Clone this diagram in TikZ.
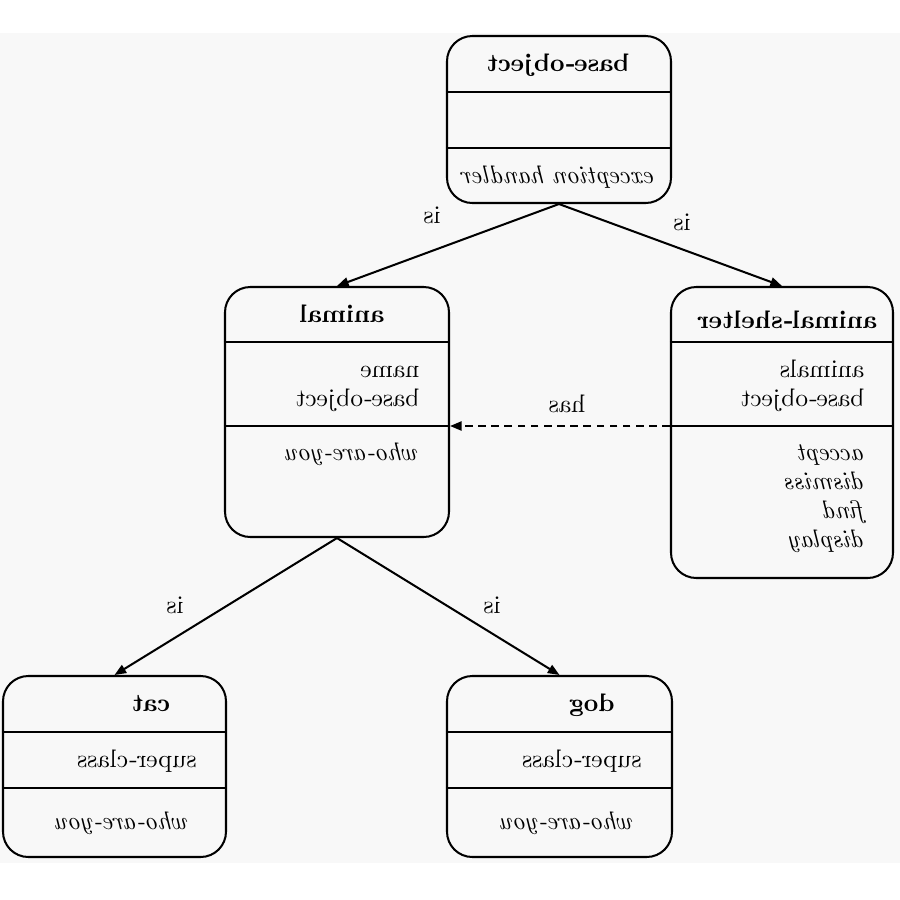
\documentclass[tikz,border=0pt]{standalone}
\usetikzlibrary{arrows.meta,fit}
\definecolor{bgc}{RGB}{248,248,248}
\newcommand{\mir}[1]{\reflectbox{#1}}
\tikzset{
  box/.style={draw, line width=0.8pt, rounded corners=10pt, inner sep=0pt},
  sep/.style={line width=0.8pt},
  arr/.style={line width=0.8pt, -{Triangle[length=4.6pt,width=3.6pt]}},
  dsh/.style={line width=0.8pt, dash pattern=on 3pt off 2.2pt, -{Triangle[length=4.6pt,width=3.6pt]}},
  ttl/.style={inner sep=0pt, anchor=base, font=\bfseries},
  att/.style={inner sep=0pt, anchor=base east},
  mth/.style={inner sep=0pt, anchor=base east, font=\itshape},
  lbl/.style={inner sep=0pt, anchor=base},
}
\begin{document}
\begin{tikzpicture}[x=0.395pt, y=-0.395pt]
\useasboundingbox (0,0) rectangle (900,900);
\fill[bgc] (0,33) rectangle (900,863);
% boxes
\node[box, fit={(447,36) (671,203)}] (base) {};
\node[box, fit={(225,287) (449,537)}] (animal) {};
\node[box, fit={(671,287) (893,578)}] (shelter) {};
\node[box, fit={(3,676) (226,857)}] (cat) {};
\node[box, fit={(447,676) (672,857)}] (dog) {};
% dividers
\draw[sep] (base.west |- 0,92) -- (base.east |- 0,92);
\draw[sep] (base.west |- 0,148) -- (base.east |- 0,148);
\draw[sep] (animal.west |- 0,342) -- (animal.east |- 0,342);
\draw[sep] (animal.west |- 0,426) -- (animal.east |- 0,426);
\draw[sep] (shelter.west |- 0,342) -- (shelter.east |- 0,342);
\draw[sep] (shelter.west |- 0,426) -- (shelter.east |- 0,426);
\draw[sep] (cat.west |- 0,732) -- (cat.east |- 0,732);
\draw[sep] (cat.west |- 0,788) -- (cat.east |- 0,788);
\draw[sep] (dog.west |- 0,732) -- (dog.east |- 0,732);
\draw[sep] (dog.west |- 0,788) -- (dog.east |- 0,788);
% texts
\node[ttl] (tbase) at (558,71) {\mir{base-object}};
\node[inner sep=0pt, anchor=base, font=\itshape] (mbase) at (559,183) {\mir{exception handler}};
\node[ttl] (tanimal) at (342,322) {\mir{animal}};
\node[att] (a1) at (420,377) {\mir{name}};
\node[att] (a2) at (420,406) {\mir{base-object}};
\node[mth] (a3) at (420,460) {\mir{who-are-you}};
\node[ttl] (tshelter) at (787,328) {\mir{animal-shelter}};
\node[att] (s1) at (865,377) {\mir{animals}};
\node[att] (s2) at (865,406) {\mir{base-object}};
\node[mth] (s3) at (866,460) {\mir{accept}};
\node[mth] (s4) at (866,489) {\mir{dismiss}};
\node[mth] (s5) at (866,518) {\mir{find}};
\node[mth] (s6) at (866,547) {\mir{display}};
\node[ttl] (tcat) at (151,711) {\mir{cat}};
\node[att] (c1) at (197,767) {\mir{super-class}};
\node[mth] (c2) at (190,829) {\mir{who-are-you}};
\node[ttl] (tdog) at (592,711) {\mir{dog}};
\node[att] (d1) at (642,767) {\mir{super-class}};
\node[mth] (d2) at (635,829) {\mir{who-are-you}};
% connectors
\draw[arr] (base.south) -- (animal.north);
\draw[arr] (base.south) -- (shelter.north);
\draw[arr] (animal.south) -- (cat.north);
\draw[arr] (animal.south) -- (dog.north);
\draw[dsh] (shelter.west |- 0,426) -- (animal.east |- 0,426);
% labels
\node[lbl] (l1) at (432,223) {\mir{is}};
\node[lbl] (l2) at (682,230) {\mir{is}};
\node[lbl] (l3) at (175,613) {\mir{is}};
\node[lbl] (l4) at (492,613) {\mir{is}};
\node[lbl] (l5) at (567,412) {\mir{has}};
\end{tikzpicture}
\end{document}
